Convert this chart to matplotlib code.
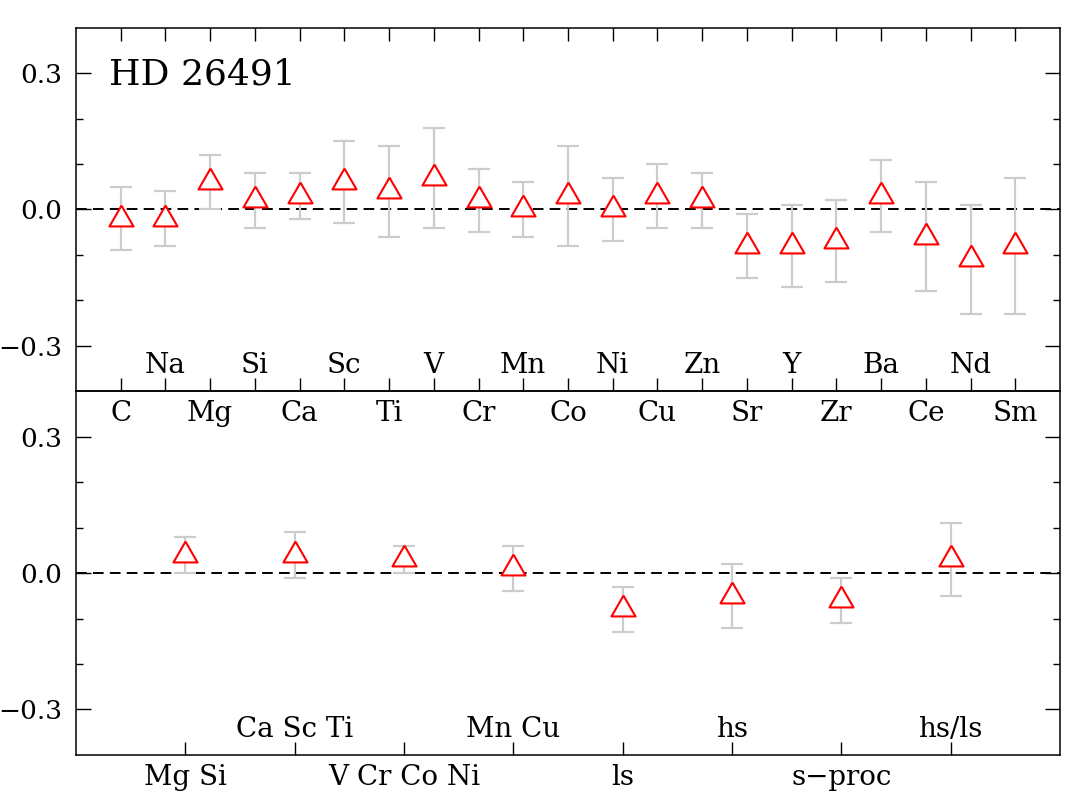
import matplotlib
matplotlib.use("Agg")
import matplotlib.pyplot as plt
import numpy as np

plt.rcParams['font.family'] = 'DejaVu Serif'

# top panel: individual elements
elements = ['C', 'Na', 'Mg', 'Si', 'Ca', 'Sc', 'Ti', 'V', 'Cr', 'Mn', 'Co',
            'Ni', 'Cu', 'Zn', 'Sr', 'Y', 'Zr', 'Ba', 'Ce', 'Nd', 'Sm']
elem_val = [-0.02, -0.02, 0.06, 0.02, 0.03, 0.06, 0.04, 0.07, 0.02, 0.00, 0.03,
            0.00, 0.03, 0.02, -0.08, -0.08, -0.07, 0.03, -0.06, -0.11, -0.08]
elem_err = [0.07, 0.06, 0.06, 0.06, 0.05, 0.09, 0.10, 0.11, 0.07, 0.06, 0.11,
            0.07, 0.07, 0.06, 0.07, 0.09, 0.09, 0.08, 0.12, 0.12, 0.15]

# bottom panel: element groups and ratios
groups = ['Mg Si', 'Ca Sc Ti', 'V Cr Co Ni', 'Mn Cu', 'ls', 'hs', 's\u2212proc', 'hs/ls']
group_val = [0.04, 0.04, 0.03, 0.01, -0.08, -0.05, -0.06, 0.03]
group_err = [0.04, 0.05, 0.03, 0.05, 0.05, 0.07, 0.05, 0.08]

# triangle centred on its centroid
tri = [(0, 1), (-0.866, -0.5), (0.866, -0.5), (0, 1)]

fig = plt.figure(figsize=(10.67, 7.97), dpi=100)
ax1 = fig.add_axes([0.0712, 0.5094, 0.9222, 0.4555])
ax2 = fig.add_axes([0.0712, 0.0527, 0.9222, 0.4567])
ax2.patch.set_visible(False)


def panel(ax, names, vals, errs, top_ticks):
    x = np.arange(1, len(names) + 1)
    ax.axhline(0, color='black', lw=1.4, dashes=(5.5, 3.2), zorder=1)
    ax.errorbar(x, vals, yerr=errs, fmt='none', ecolor='#cccccc',
                elinewidth=1.6, capsize=8, capthick=1.6, zorder=2)
    ax.plot(x, vals, ls='none', marker=tri, ms=20, mfc='white',
            mec='red', mew=1.5, zorder=3)
    ax.set_xlim(0, len(names) + 1)
    ax.set_ylim(-0.4, 0.4)
    ax.set_xticks(x)
    ax.set_xticklabels([])
    ax.set_yticks([-0.3, 0.0, 0.3])
    ax.set_yticklabels(['\u22120.3', '0.0', '0.3'], fontsize=19)
    ax.set_yticks([-0.2, -0.1, 0.1, 0.2], minor=True)
    ax.tick_params(axis='y', which='major', direction='in', length=11,
                   width=1, left=True, right=True, pad=10)
    ax.tick_params(axis='y', which='minor', direction='in', length=5,
                   width=1, left=True, right=True)
    ax.tick_params(axis='x', which='major', direction='in', length=9.5,
                   width=1, bottom=True, top=top_ticks)
    ax.tick_params(axis='x', which='minor', bottom=False, top=False)
    for s in ax.spines.values():
        s.set_linewidth(1.1)
    tr = ax.get_xaxis_transform()
    for i, name in enumerate(names):
        if i % 2 == 0:
            ax.text(x[i], -0.082, name, transform=tr, ha='center',
                    va='baseline', fontsize=20, clip_on=False)
        else:
            ax.text(x[i], 0.05, name, transform=tr, ha='center',
                    va='baseline', fontsize=20)


panel(ax1, elements, elem_val, elem_err, True)
panel(ax2, groups, group_val, group_err, False)

ax1.text(0.034, 0.845, 'HD 26491', transform=ax1.transAxes, fontsize=26,
         ha='left', va='baseline')

fig.savefig('out.png', dpi=100)
